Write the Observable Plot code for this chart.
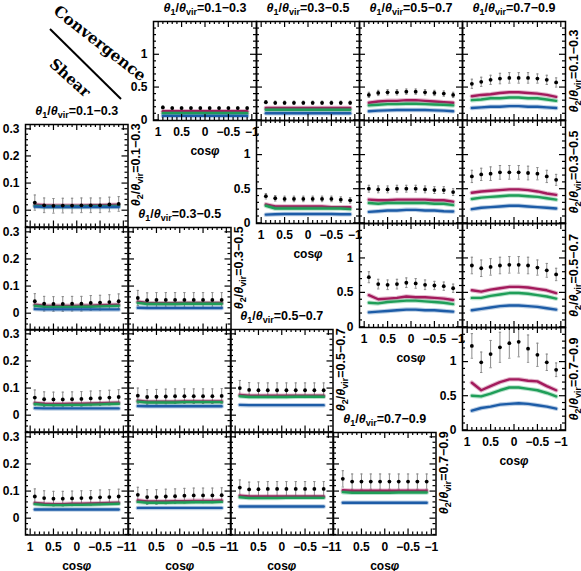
<!DOCTYPE html>
<html><head><meta charset="utf-8">
<script src="https://cdn.jsdelivr.net/npm/d3@7"></script>
<script src="https://cdn.jsdelivr.net/npm/@observablehq/plot@0.6"></script>
<style>
html,body{margin:0;padding:0;background:#fff;}
#fig{position:relative;width:581px;height:571px;overflow:hidden;background:#fff;}
#fig svg{position:absolute;}
</style></head><body><div id="fig"></div>
<script>
// ---------- data ----------
const cosPhi = [0.9, 0.7, 0.5, 0.3, 0.1, -0.1, -0.3, -0.5, -0.7, -0.9];
const binLabels = ["0.1−0.3", "0.3−0.5", "0.5−0.7", "0.7−0.9"];
const xMajor = [1, 0.5, 0, -0.5, -1];
const convYMajor = [0, 0.5, 1];
const shearYMajor = [0, 0.1, 0.2, 0.3];
const seriesColors = {m: "#a31a5c", g: "#1f9e58", b: "#1d5ca7"};

// convergence panels: [row (θ2 bin), col (θ1 bin)]
const convPanels = [[0,0],[0,1],[0,2],[0,3],[1,1],[1,2],[1,3],[2,2],[2,3],[3,3]];
const convObs = [
  [0.19,0.18,0.18,0.18,0.18,0.18,0.18,0.18,0.18,0.18],
  [0.27,0.26,0.26,0.26,0.26,0.26,0.26,0.26,0.26,0.26],
  [0.38,0.41,0.42,0.42,0.43,0.43,0.42,0.41,0.40,0.38],
  [0.55,0.58,0.61,0.63,0.64,0.64,0.64,0.63,0.61,0.57],
  [0.39,0.36,0.35,0.35,0.35,0.35,0.35,0.35,0.34,0.33],
  [0.50,0.49,0.49,0.50,0.50,0.50,0.49,0.48,0.48,0.45],
  [0.68,0.71,0.72,0.74,0.74,0.74,0.73,0.72,0.68,0.63],
  [0.72,0.62,0.61,0.62,0.64,0.63,0.61,0.60,0.59,0.56],
  [0.89,0.85,0.87,0.89,0.90,0.90,0.89,0.86,0.82,0.76],
  [1.23,0.99,1.11,1.21,1.27,1.29,1.19,1.10,0.99,0.88]
];
const convErr = [
  [0.02,0.02,0.02,0.02,0.02,0.02,0.02,0.02,0.02,0.02],
  [0.025,0.025,0.025,0.025,0.025,0.025,0.025,0.025,0.025,0.025],
  [0.04,0.04,0.04,0.04,0.04,0.04,0.04,0.04,0.04,0.04],
  [0.07,0.07,0.07,0.08,0.08,0.08,0.08,0.07,0.07,0.07],
  [0.04,0.04,0.04,0.04,0.04,0.04,0.04,0.04,0.04,0.04],
  [0.05,0.05,0.05,0.05,0.05,0.05,0.05,0.05,0.05,0.05],
  [0.09,0.09,0.10,0.10,0.10,0.10,0.10,0.09,0.09,0.08],
  [0.08,0.07,0.07,0.07,0.07,0.07,0.07,0.06,0.06,0.06],
  [0.12,0.12,0.12,0.12,0.12,0.12,0.12,0.11,0.10,0.09],
  [0.18,0.15,0.20,0.22,0.22,0.22,0.20,0.17,0.12,0.10]
];
const convM = [
  [0.13,0.13,0.13,0.13,0.13,0.13,0.13,0.13,0.13,0.13],
  [0.18,0.18,0.18,0.18,0.18,0.18,0.18,0.18,0.18,0.18],
  [0.26,0.28,0.29,0.29,0.30,0.30,0.29,0.28,0.27,0.26],
  [0.36,0.38,0.39,0.41,0.42,0.42,0.41,0.40,0.38,0.35],
  [0.27,0.24,0.24,0.24,0.24,0.24,0.24,0.23,0.23,0.23],
  [0.34,0.33,0.33,0.34,0.34,0.34,0.34,0.33,0.33,0.31],
  [0.44,0.46,0.47,0.48,0.49,0.49,0.48,0.46,0.43,0.41],
  [0.46,0.40,0.41,0.42,0.44,0.43,0.43,0.42,0.41,0.39],
  [0.53,0.51,0.54,0.56,0.58,0.58,0.57,0.55,0.53,0.49],
  [0.69,0.58,0.64,0.70,0.74,0.74,0.72,0.71,0.64,0.58]
];
const convG = [
  [0.10,0.10,0.10,0.10,0.10,0.10,0.10,0.10,0.10,0.10],
  [0.155,0.155,0.155,0.155,0.155,0.155,0.155,0.155,0.155,0.155],
  [0.22,0.23,0.24,0.24,0.245,0.245,0.24,0.235,0.23,0.22],
  [0.30,0.31,0.33,0.33,0.34,0.34,0.33,0.33,0.31,0.29],
  [0.25,0.21,0.21,0.21,0.21,0.21,0.21,0.21,0.21,0.20],
  [0.29,0.28,0.29,0.29,0.29,0.29,0.29,0.28,0.28,0.26],
  [0.35,0.37,0.38,0.39,0.40,0.40,0.39,0.38,0.36,0.34],
  [0.35,0.34,0.36,0.37,0.38,0.38,0.37,0.36,0.35,0.33],
  [0.42,0.42,0.45,0.47,0.49,0.49,0.48,0.46,0.44,0.41],
  [0.50,0.49,0.53,0.58,0.62,0.62,0.60,0.58,0.54,0.49]
];
const convB = [
  [0.06,0.06,0.06,0.06,0.06,0.06,0.06,0.06,0.06,0.06],
  [0.10,0.10,0.10,0.10,0.10,0.10,0.10,0.10,0.10,0.10],
  [0.13,0.14,0.145,0.15,0.15,0.15,0.15,0.145,0.14,0.13],
  [0.18,0.19,0.20,0.20,0.21,0.21,0.20,0.20,0.19,0.18],
  [0.12,0.125,0.13,0.13,0.13,0.13,0.13,0.13,0.125,0.125],
  [0.16,0.17,0.18,0.18,0.19,0.19,0.18,0.18,0.17,0.165],
  [0.20,0.22,0.23,0.24,0.25,0.25,0.24,0.23,0.22,0.21],
  [0.21,0.22,0.23,0.24,0.25,0.25,0.24,0.24,0.23,0.22],
  [0.24,0.26,0.28,0.30,0.31,0.31,0.30,0.29,0.27,0.25],
  [0.28,0.32,0.34,0.37,0.38,0.39,0.38,0.36,0.34,0.31]
];

// shear panels: [row (θ2 bin), col (θ1 bin)]
const shearPanels = [[0,0],[1,0],[1,1],[2,0],[2,1],[2,2],[3,0],[3,1],[3,2],[3,3]];
const shearObs = [
  [0.028,0.018,0.016,0.017,0.017,0.018,0.018,0.018,0.021,0.023],
  [0.044,0.035,0.034,0.034,0.035,0.035,0.038,0.039,0.041,0.044],
  [0.056,0.048,0.049,0.049,0.049,0.049,0.049,0.049,0.049,0.049],
  [0.065,0.059,0.058,0.058,0.059,0.060,0.062,0.063,0.065,0.067],
  [0.072,0.067,0.068,0.069,0.070,0.070,0.070,0.070,0.070,0.071],
  [0.100,0.093,0.092,0.092,0.092,0.092,0.092,0.092,0.092,0.092],
  [0.080,0.074,0.072,0.072,0.073,0.074,0.075,0.077,0.078,0.080],
  [0.086,0.078,0.078,0.080,0.081,0.083,0.084,0.084,0.084,0.085],
  [0.113,0.106,0.107,0.108,0.108,0.108,0.108,0.108,0.108,0.108],
  [0.145,0.135,0.135,0.135,0.135,0.135,0.135,0.135,0.135,0.135]
];
const shearErr = [
  [0.028,0.027,0.027,0.027,0.027,0.027,0.027,0.027,0.027,0.027],
  [0.028,0.027,0.027,0.027,0.027,0.027,0.027,0.027,0.027,0.027],
  [0.028,0.027,0.027,0.027,0.027,0.027,0.027,0.027,0.027,0.027],
  [0.028,0.027,0.027,0.027,0.027,0.027,0.027,0.027,0.027,0.027],
  [0.028,0.027,0.027,0.027,0.027,0.027,0.027,0.027,0.027,0.027],
  [0.028,0.027,0.027,0.027,0.027,0.027,0.027,0.027,0.027,0.027],
  [0.028,0.027,0.027,0.027,0.027,0.027,0.027,0.027,0.027,0.027],
  [0.028,0.027,0.027,0.027,0.027,0.027,0.027,0.027,0.027,0.027],
  [0.028,0.027,0.027,0.027,0.027,0.027,0.027,0.027,0.027,0.027],
  [0.030,0.028,0.028,0.028,0.028,0.028,0.028,0.028,0.028,0.028]
];
const shearM = [
  [0.020,0.018,0.017,0.017,0.017,0.017,0.018,0.018,0.019,0.020],
  [0.031,0.028,0.027,0.027,0.027,0.028,0.028,0.029,0.030,0.031],
  [0.042,0.038,0.037,0.037,0.037,0.038,0.038,0.038,0.038,0.038],
  [0.045,0.042,0.041,0.041,0.042,0.042,0.043,0.044,0.045,0.046],
  [0.053,0.050,0.050,0.050,0.050,0.051,0.051,0.051,0.051,0.051],
  [0.075,0.072,0.072,0.072,0.072,0.072,0.072,0.072,0.072,0.072],
  [0.056,0.053,0.052,0.052,0.053,0.053,0.054,0.055,0.056,0.057],
  [0.065,0.062,0.062,0.062,0.063,0.063,0.064,0.064,0.064,0.065],
  [0.083,0.080,0.080,0.080,0.080,0.080,0.080,0.080,0.080,0.080],
  [0.103,0.101,0.101,0.101,0.101,0.101,0.101,0.101,0.101,0.101]
];
const shearG = [
  [0.016,0.014,0.014,0.014,0.014,0.014,0.015,0.015,0.015,0.016],
  [0.027,0.024,0.023,0.023,0.023,0.024,0.024,0.025,0.026,0.027],
  [0.038,0.034,0.034,0.034,0.034,0.035,0.035,0.035,0.035,0.035],
  [0.041,0.038,0.037,0.037,0.038,0.038,0.039,0.040,0.041,0.042],
  [0.050,0.047,0.047,0.047,0.047,0.048,0.048,0.048,0.048,0.048],
  [0.070,0.067,0.067,0.067,0.067,0.067,0.068,0.068,0.068,0.068],
  [0.052,0.049,0.048,0.048,0.049,0.049,0.050,0.051,0.052,0.053],
  [0.060,0.057,0.057,0.057,0.058,0.058,0.059,0.059,0.059,0.060],
  [0.077,0.074,0.074,0.074,0.074,0.075,0.075,0.075,0.075,0.075],
  [0.096,0.094,0.094,0.094,0.094,0.094,0.095,0.095,0.095,0.095]
];
const shearB = [
  [0.013,0.012,0.012,0.012,0.012,0.012,0.012,0.012,0.012,0.012],
  [0.015,0.014,0.014,0.014,0.014,0.014,0.014,0.014,0.014,0.014],
  [0.020,0.019,0.019,0.019,0.019,0.019,0.019,0.019,0.019,0.019],
  [0.026,0.025,0.025,0.025,0.025,0.025,0.025,0.025,0.025,0.025],
  [0.034,0.033,0.033,0.033,0.033,0.033,0.033,0.033,0.033,0.033],
  [0.038,0.037,0.037,0.037,0.037,0.037,0.037,0.037,0.037,0.037],
  [0.032,0.032,0.032,0.032,0.032,0.032,0.032,0.032,0.032,0.032],
  [0.038,0.038,0.038,0.038,0.038,0.038,0.038,0.038,0.038,0.038],
  [0.043,0.043,0.043,0.043,0.043,0.043,0.043,0.043,0.043,0.043],
  [0.057,0.057,0.057,0.057,0.057,0.057,0.057,0.057,0.057,0.057]
];

// ---------- layout ----------
const convColX = [153, 256, 359, 462], convW = 103;
const convRowY = [21, 120, 223, 327], convH = [99, 103, 104, 103];
const shearColX = [25, 127.5, 230, 332.5], shearW = 102.5;
const shearRowY = [124, 226.5, 329, 431.5], shearH = 102.5;
const xDomain = [1.1, -1.1];
const convYDomain = [-0.01, 1.5];
const shearYDomain = [-0.062, 0.316];
const isMult = (v, step) => Math.abs(v / step - Math.round(v / step)) < 1e-6;
const xMinor = d3.range(-10, 11).map(i => i / 10).filter(v => !isMult(v, 0.5));
const convYMinor = d3.range(0, 15).map(i => i / 10).filter(v => !isMult(v, 0.5));
const shearYMinor = d3.range(-3, 16).map(i => +(i * 0.02).toFixed(2)).filter(v => !isMult(v, 0.1));

const fig = document.getElementById("fig");
const FONT = "'Liberation Sans', Arial, Helvetica, sans-serif";

function fmt(v) { if (v === 0) return "0"; return (v < 0 ? "−" : "") + String(Math.abs(v)); }

function decorate(svg) {
  d3.select(svg).selectAll("text").each(function () {
    const t = this.textContent;
    const m = /^θ([12])\/θvir=(.*)$/.exec(t);
    const s = d3.select(this);
    if (m) {
      s.text(null).attr("font-size", 12.5);
      s.append("tspan").attr("font-style", "italic").text("θ");
      s.append("tspan").attr("font-size", 9).attr("dy", 3).text(m[1]);
      s.append("tspan").attr("dy", -3).text("/");
      s.append("tspan").attr("font-style", "italic").text("θ");
      s.append("tspan").attr("font-size", 9).attr("dy", 3).text("vir");
      s.append("tspan").attr("dy", -3).text("=" + m[2]);
      return;
    }
    if (t === "cosφ") {
      s.text(null);
      s.append("tspan").text("cos");
      s.append("tspan").attr("font-style", "italic").text("φ");
    }
  });
}

function tickMarks(o) {
  // inward ticks on all four sides, lengths converted from pixels to data units
  const [x0, x1] = xDomain, [y0, y1] = o.yDomain;
  const sx = (x0 - x1) / o.w, sy = (y1 - y0) / o.h;
  const st = {stroke: "black", strokeWidth: 1.2};
  const out = [];
  for (const [ticks, len] of [[xMajor, 6], [xMinor, 3]]) {
    out.push(Plot.ruleX(ticks, {x: d => d, y1: y0, y2: y0 + len * sy, ...st}));
    out.push(Plot.ruleX(ticks, {x: d => d, y1: y1, y2: y1 - len * sy, ...st}));
  }
  for (const [ticks, len] of [[o.yMajor, 6], [o.yMinor, 3]]) {
    out.push(Plot.ruleY(ticks, {y: d => d, x1: x0, x2: x0 - len * sx, ...st}));
    out.push(Plot.ruleY(ticks, {y: d => d, x1: x1, x2: x1 + len * sx, ...st}));
  }
  return out;
}

function panel(o) {
  const rows = cosPhi.map((c, i) => ({c, o: o.obs[i], e: o.err[i], m: o.m[i], g: o.g[i], b: o.b[i]}));
  const capW = 0.025;
  const eb = {stroke: "#8a8a8a", strokeWidth: 1, clip: true};
  const marks = [
    Plot.ruleX(rows, {x: "c", y1: d => d.o - d.e, y2: d => d.o + d.e, ...eb}),
    Plot.link(rows, {x1: d => d.c + capW, x2: d => d.c - capW, y1: d => d.o + d.e, y2: d => d.o + d.e, ...eb}),
    Plot.link(rows, {x1: d => d.c + capW, x2: d => d.c - capW, y1: d => d.o - d.e, y2: d => d.o - d.e, ...eb})
  ];
  for (const k of ["m", "g", "b"]) {
    marks.push(Plot.line(rows, {x: "c", y: k, stroke: seriesColors[k], strokeWidth: 4.5, strokeOpacity: 0.3}));
    marks.push(Plot.line(rows, {x: "c", y: k, stroke: seriesColors[k], strokeWidth: 2.4}));
  }
  marks.push(Plot.dot(rows, {x: "c", y: "o", r: 1.9, fill: "black", stroke: null}));
  marks.push(Plot.frame({stroke: "black", strokeWidth: 1.5}));
  marks.push(...tickMarks(o));
  if (o.xLabels) {
    marks.push(Plot.axisX({anchor: "bottom", ticks: xMajor, tickSize: 0, tickPadding: 7, tickFormat: fmt, label: null}));
    marks.push(Plot.text(["cosφ"], {frameAnchor: "bottom", dy: 31, text: d => d, textAnchor: "middle", lineAnchor: "middle"}));
  } else {
    marks.push(Plot.axisX({anchor: "bottom", ticks: [], label: null}));
  }
  if (o.yLabels) {
    marks.push(Plot.axisY({anchor: "left", ticks: o.yMajor, tickSize: 0, tickPadding: 6, tickFormat: fmt, label: null}));
  } else {
    marks.push(Plot.axisY({anchor: "left", ticks: [], label: null}));
  }
  if (o.title) {
    marks.push(Plot.text([o.title], {frameAnchor: "top", dy: -14, text: d => d, textAnchor: "middle", lineAnchor: "middle"}));
  }
  if (o.side) {
    marks.push(Plot.text([o.side], {frameAnchor: "right", dx: o.sideDx, dy: o.sideDy, rotate: -90, text: d => d, textAnchor: "middle", lineAnchor: "middle"}));
  }
  const svg = Plot.plot({
    width: o.w, height: o.h, margin: 0,
    x: {domain: xDomain},
    y: {domain: o.yDomain},
    style: {background: "transparent", overflow: "visible", fontFamily: FONT, fontSize: "12px", fontWeight: "bold", color: "black"},
    marks
  });
  decorate(svg);
  svg.style.position = "absolute";
  svg.style.left = o.left + "px";
  svg.style.top = o.top + "px";
  fig.appendChild(svg);
}

// corner annotation
const corner = d3.create("svg").attr("width", 581).attr("height", 571).style("left", "0px").style("top", "0px");
corner.append("line").attr("x1", 50).attr("y1", 29).attr("x2", 121).attr("y2", 99).attr("stroke", "black").attr("stroke-width", 2);
corner.append("text").attr("transform", "translate(100,43) rotate(38)").attr("text-anchor", "middle").attr("dominant-baseline", "central")
  .attr("font-family", "'DejaVu Serif', serif").attr("font-size", 15.5).attr("font-weight", "bold").text("Convergence");
corner.append("text").attr("transform", "translate(70,78) rotate(42)").attr("text-anchor", "middle").attr("dominant-baseline", "central")
  .attr("font-family", "'DejaVu Serif', serif").attr("font-size", 15).attr("font-weight", "bold").text("Shear");
fig.appendChild(corner.node());

// convergence panels
convPanels.forEach(([r, c], i) => {
  panel({
    left: convColX[c], top: convRowY[r], w: convW, h: convH[r],
    yDomain: convYDomain, yMajor: convYMajor, yMinor: convYMinor,
    obs: convObs[i], err: convErr[i], m: convM[i], g: convG[i], b: convB[i],
    xLabels: r === c, yLabels: r === c,
    title: r === 0 ? "θ1/θvir=" + binLabels[c] : null,
    side: c === 3 ? "θ2/θvir=" + binLabels[r] : null, sideDx: 8, sideDy: 0
  });
});

// shear panels
shearPanels.forEach(([r, c], i) => {
  panel({
    left: shearColX[c], top: shearRowY[r], w: shearW, h: shearH,
    yDomain: shearYDomain, yMajor: shearYMajor, yMinor: shearYMinor,
    obs: shearObs[i], err: shearErr[i], m: shearM[i], g: shearG[i], b: shearB[i],
    xLabels: r === 3, yLabels: c === 0,
    title: r === c ? "θ1/θvir=" + binLabels[c] : null,
    side: r === c ? "θ2/θvir=" + binLabels[r] : null, sideDx: 8, sideDy: -11
  });
});
</script></body></html>
